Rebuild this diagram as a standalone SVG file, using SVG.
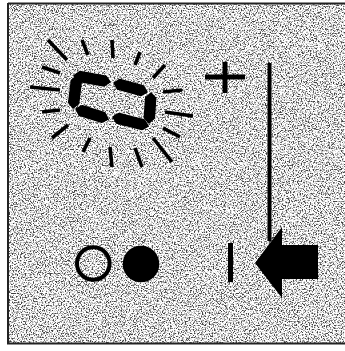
<svg xmlns="http://www.w3.org/2000/svg" width="345" height="351" viewBox="0 0 345 351">
<style>
.ray{stroke:#000;stroke-width:3.6;stroke-linecap:butt;fill:none}
.seg{fill:#000;stroke:#000;stroke-width:1.5;stroke-linejoin:round}
.ink{fill:#000}
</style>
<defs>
<filter id="noise" x="0" y="0" width="100%" height="100%" filterUnits="objectBoundingBox">
<feTurbulence type="fractalNoise" baseFrequency="0.75" numOctaves="2" seed="7" result="t"/>
<feColorMatrix in="t" type="matrix" values="0 0 0 0 0.05  0 0 0 0 0.05  0 0 0 0 0.05  4.2 0 0 0 -1.95"/>
</filter>
</defs>
<rect width="345" height="351" fill="#fff"/>
<g id="background">
<rect x="8" y="3" width="337" height="341" fill="#fff"/>
<rect x="8" y="3" width="337" height="341" fill="#fff" filter="url(#noise)"/>
<path d="M8 3.5H345M8 3V344.5M8 343.5H345" stroke="#222" stroke-width="2" fill="none"/>
</g>
<g id="display">
<g id="rays">
<line class="ray" x1="48" y1="40" x2="67" y2="60"/>
<line class="ray" x1="82" y1="40" x2="88" y2="55"/>
<line class="ray" x1="112" y1="40" x2="113" y2="58"/>
<line class="ray" x1="140" y1="52" x2="135" y2="65"/>
<line class="ray" x1="165" y1="65" x2="153" y2="78"/>
<line class="ray" x1="163" y1="92" x2="182" y2="90"/>
<line class="ray" x1="165" y1="112" x2="193" y2="116"/>
<line class="ray" x1="163" y1="128" x2="180" y2="137"/>
<line class="ray" x1="153" y1="138" x2="172" y2="162"/>
<line class="ray" x1="135" y1="148" x2="142" y2="167"/>
<line class="ray" x1="110" y1="147" x2="112" y2="167"/>
<line class="ray" x1="90" y1="138" x2="83" y2="152"/>
<line class="ray" x1="68" y1="125" x2="52" y2="138"/>
<line class="ray" x1="60" y1="110" x2="42" y2="112"/>
<line class="ray" x1="60" y1="90" x2="30" y2="87"/>
<line class="ray" x1="60" y1="73" x2="42" y2="67"/>
</g>
<g id="segments">
<polygon class="seg" points="74,75.5 78,81.3 104.2,86 110,82 106,76.2 79.8,71.5"/>
<polygon class="seg" points="114,83 117.5,89.1 140.9,95.5 147,92 143.5,85.9 120.1,79.5"/>
<polygon class="seg" points="77,76 71.4,80.3 68.7,102.4 73,108 78.6,103.7 81.3,81.6"/>
<polygon class="seg" points="151,93 145.7,97.7 144.3,117.7 149,123 154.3,118.3 155.7,98.3"/>
<polygon class="seg" points="76,109 79.3,115.3 101.7,122.3 108,119 104.7,112.7 82.3,105.7"/>
<polygon class="seg" points="113,117 116.6,123.1 141.9,129.6 148,126 144.4,119.9 119.1,113.4"/>
</g>
</g>
<g id="plus">
<path d="M205 77H245M225 62V93" stroke="#000" stroke-width="5" fill="none"/>
</g>
<g id="connectors">
<line x1="269.5" y1="63" x2="269.5" y2="241" stroke="#000" stroke-width="4"/>
</g>
<g id="circles">
<circle cx="93.3" cy="263.5" r="16.3" fill="none" stroke="#000" stroke-width="4"/>
<circle class="ink" cx="141" cy="264" r="18.3"/>
</g>
<g id="bar">
<rect class="ink" x="228" y="243" width="5" height="39"/>
</g>
<g id="arrow">
<polygon class="ink" points="255,263 282,227 282,245 318,245 318,279 282,279 282,298"/>
</g>
</svg>
